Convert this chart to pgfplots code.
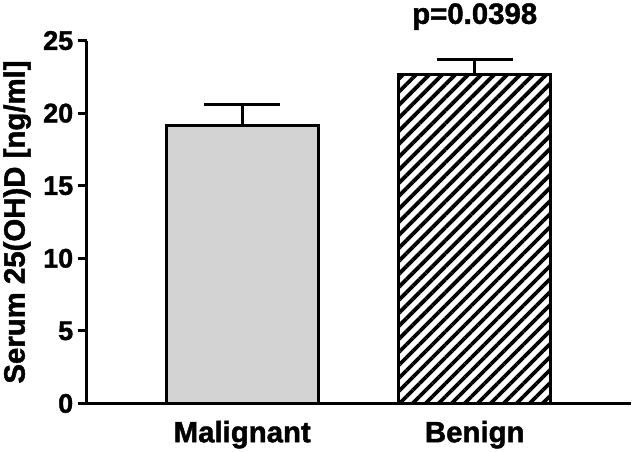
\documentclass[border=0pt]{standalone}
\usepackage{fontspec}
\setmainfont{Liberation Sans}[BoldFeatures={FakeBold=1.5}]
\usepackage{pgfplots}
\pgfplotsset{compat=1.18}
\usetikzlibrary{patterns.meta}
\definecolor{barGray}{RGB}{211,211,211}
\begin{document}
\begin{tikzpicture}
\begin{axis}[
  scale only axis, width=544bp, height=363bp,
  xmin=-0.669, xmax=1.67, ymin=0, ymax=25,
  axis lines*=left,
  axis line style={line width=3bp, black},
  xtick={0,1}, xticklabels={Malignant,Benign},
  x tick style={draw=none},
  ytick={0,5,10,15,20,25},
  y tick style={line width=3bp, black},
  tick align=outside, major tick length=9bp,
  /pgf/number format/assume math mode=true,
  yticklabel style={font=\bfseries\fontsize{27}{27}\selectfont, xshift=-1bp},
  xticklabel style={font=\bfseries\fontsize{29.5}{29.5}\selectfont, yshift=-5bp},
  ylabel={Serum 25(OH)D [ng/ml]},
  ylabel style={font=\bfseries\fontsize{29.5}{29.5}\selectfont, at={(axis description cs:-0.128,0.5)}, anchor=center, rotate=0},
  clip=false,
]
\addplot[ybar, bar shift=0pt, bar width=152bp, fill=barGray, draw=black, line width=3bp,
  error bars/.cd, y dir=plus, y explicit,
  error bar style={line width=3bp, black},
  error mark options={rotate=90, mark size=38bp, line width=3bp, black}]
  coordinates {(0,19.15) +- (0,1.45)};
\addplot[ybar, bar shift=0pt, bar width=152bp, pattern={Lines[angle=45, distance=9.2bp, line width=3.8bp]}, pattern color=black, draw=black, line width=3bp,
  error bars/.cd, y dir=plus, y explicit,
  error bar style={line width=3bp, black},
  error mark options={rotate=90, mark size=38bp, line width=3bp, black}]
  coordinates {(1,22.66) +- (0,1.03)};
\node[font=\bfseries\fontsize{29.5}{29.5}\selectfont] at (axis cs:1,26.65) {p=0.0398};
\end{axis}
\end{tikzpicture}
\end{document}
